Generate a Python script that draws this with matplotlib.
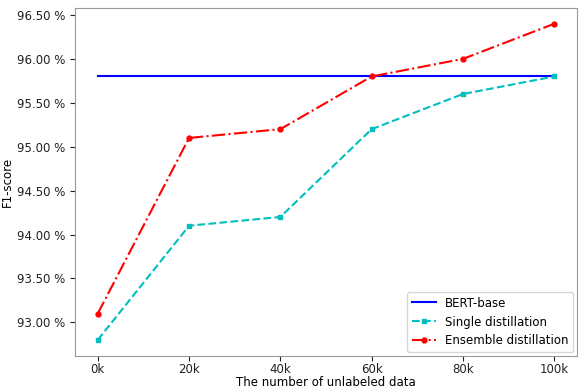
import matplotlib
matplotlib.use("Agg")
import matplotlib.pyplot as plt
from matplotlib.ticker import FuncFormatter

# データ
x_labels = ["0k", "20k", "40k", "60k", "80k", "100k"]
bert_base = [95.8, 95.8, 95.8, 95.8, 95.8, 95.8]
single = [92.8, 94.1, 94.2, 95.2, 95.6, 95.8]
ensemble = [93.1, 95.1, 95.2, 95.8, 96.0, 96.4]

fs = 8.5
fig = plt.figure(figsize=(5.79, 3.90), dpi=100)
ax = fig.add_axes([0.1295, 0.088, 0.867, 0.8915])

xs = range(len(x_labels))
ax.plot(xs, bert_base, color="b", linestyle="-", linewidth=1.5, label="BERT-base")
ax.plot(xs, single, color="c", linestyle="--", marker="s", markersize=3,
        linewidth=1.5, label="Single distillation")
ax.plot(xs, ensemble, color="r", linestyle="-.", marker="o", markersize=3.5,
        linewidth=1.5, label="Ensemble distillation")

ax.set_xticks(list(xs), x_labels)
ax.set_yticks([93.0, 93.5, 94.0, 94.5, 95.0, 95.5, 96.0, 96.5])
ax.yaxis.set_major_formatter(FuncFormatter(lambda v, _: f"{v:.2f} %"))
ax.tick_params(labelsize=fs, colors="#222222")
ax.tick_params(axis="x", pad=2)
for sp in ax.spines.values():
    sp.set_color("#999999")

ax.set_xlabel("The number of unlabeled data", fontsize=fs, labelpad=0)
ax.set_ylabel("F1-score", fontsize=fs, labelpad=2)
ax.legend(loc="lower right", fontsize=fs, borderaxespad=0.3)

fig.savefig("out.png", dpi=100)
